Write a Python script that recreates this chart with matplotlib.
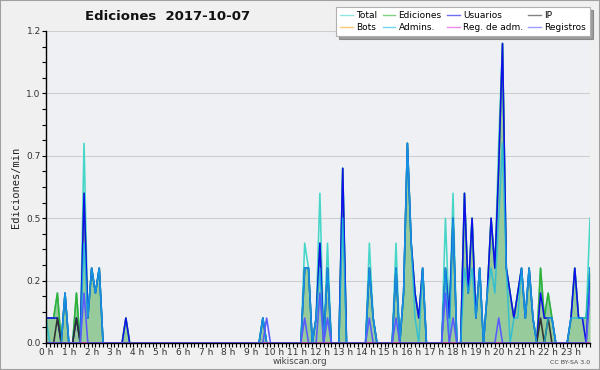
import numpy as np
import matplotlib
matplotlib.use('Agg')
import matplotlib.pyplot as plt
from matplotlib.patches import Rectangle
from matplotlib.ticker import MultipleLocator

# --- Data: edits per 10-minute bin, 2017-10-07 (144 bins, 4 hours per row) ---
total = [
    1, 1, 1, 2, 0, 2, 0, 0, 2, 0, 8, 1, 3, 2, 3, 0, 0, 0, 0, 0, 0, 1, 0, 0,
    0, 0, 0, 0, 0, 0, 0, 0, 0, 0, 0, 0, 0, 0, 0, 0, 0, 0, 0, 0, 0, 0, 0, 0,
    0, 0, 0, 0, 0, 0, 0, 0, 0, 1, 0, 0, 0, 0, 0, 0, 0, 0, 0, 0, 4, 3, 0, 1,
    6, 0, 4, 0, 0, 0, 7, 0, 0, 0, 0, 0, 0, 4, 1, 0, 0, 0, 0, 0, 4, 0, 2, 8,
    4, 2, 1, 3, 0, 0, 0, 0, 0, 5, 1, 6, 0, 0, 6, 2, 5, 1, 3, 0, 2, 5, 3, 8,
    12, 3, 2, 1, 2, 3, 1, 3, 1, 0, 3, 1, 2, 1, 0, 0, 0, 0, 1, 3, 1, 1, 1, 5,
]
ediciones = [
    1, 1, 1, 2, 0, 2, 0, 0, 2, 0, 6, 1, 3, 2, 3, 0, 0, 0, 0, 0, 0, 1, 0, 0,
    0, 0, 0, 0, 0, 0, 0, 0, 0, 0, 0, 0, 0, 0, 0, 0, 0, 0, 0, 0, 0, 0, 0, 0,
    0, 0, 0, 0, 0, 0, 0, 0, 0, 1, 0, 0, 0, 0, 0, 0, 0, 0, 0, 0, 3, 3, 0, 1,
    4, 0, 3, 0, 0, 0, 7, 0, 0, 0, 0, 0, 0, 3, 1, 0, 0, 0, 0, 0, 3, 0, 2, 8,
    4, 2, 1, 3, 0, 0, 0, 0, 0, 3, 1, 5, 0, 0, 6, 2, 5, 1, 3, 0, 2, 5, 3, 7,
    12, 3, 2, 1, 2, 3, 1, 3, 1, 0, 3, 1, 2, 1, 0, 0, 0, 0, 1, 3, 1, 1, 1, 3,
]
usuarios = [
    1, 1, 1, 1, 0, 2, 0, 0, 1, 0, 6, 1, 3, 2, 3, 0, 0, 0, 0, 0, 0, 1, 0, 0,
    0, 0, 0, 0, 0, 0, 0, 0, 0, 0, 0, 0, 0, 0, 0, 0, 0, 0, 0, 0, 0, 0, 0, 0,
    0, 0, 0, 0, 0, 0, 0, 0, 0, 1, 0, 0, 0, 0, 0, 0, 0, 0, 0, 0, 3, 3, 0, 1,
    4, 0, 3, 0, 0, 0, 7, 0, 0, 0, 0, 0, 0, 3, 1, 0, 0, 0, 0, 0, 3, 0, 2, 8,
    4, 2, 1, 3, 0, 0, 0, 0, 0, 3, 1, 5, 0, 0, 6, 2, 5, 1, 3, 0, 2, 5, 3, 7,
    12, 3, 2, 1, 2, 3, 1, 3, 1, 0, 2, 1, 1, 1, 0, 0, 0, 0, 1, 3, 1, 1, 0, 3,
]
ip = [
    0, 0, 0, 1, 0, 0, 0, 0, 1, 0, 0, 0, 0, 0, 0, 0, 0, 0, 0, 0, 0, 0, 0, 0,
    0, 0, 0, 0, 0, 0, 0, 0, 0, 0, 0, 0, 0, 0, 0, 0, 0, 0, 0, 0, 0, 0, 0, 0,
    0, 0, 0, 0, 0, 0, 0, 0, 0, 0, 0, 0, 0, 0, 0, 0, 0, 0, 0, 0, 0, 0, 0, 0,
    0, 0, 0, 0, 0, 0, 0, 0, 0, 0, 0, 0, 0, 0, 0, 0, 0, 0, 0, 0, 0, 0, 0, 0,
    0, 0, 0, 0, 0, 0, 0, 0, 0, 0, 0, 0, 0, 0, 0, 0, 0, 0, 0, 0, 0, 0, 0, 0,
    0, 0, 0, 0, 0, 0, 0, 0, 0, 0, 1, 0, 1, 0, 0, 0, 0, 0, 0, 0, 0, 0, 0, 0,
]
admins = [
    1, 0, 0, 0, 0, 2, 0, 0, 0, 0, 4, 1, 3, 2, 3, 0, 0, 0, 0, 0, 0, 0, 0, 0,
    0, 0, 0, 0, 0, 0, 0, 0, 0, 0, 0, 0, 0, 0, 0, 0, 0, 0, 0, 0, 0, 0, 0, 0,
    0, 0, 0, 0, 0, 0, 0, 0, 0, 1, 0, 0, 0, 0, 0, 0, 0, 0, 0, 0, 3, 3, 0, 1,
    3, 0, 3, 0, 0, 0, 5, 0, 0, 0, 0, 0, 0, 3, 1, 0, 0, 0, 0, 0, 3, 0, 2, 8,
    4, 1, 0, 3, 0, 0, 0, 0, 0, 3, 0, 5, 0, 0, 3, 2, 3, 1, 3, 0, 2, 3, 2, 5,
    8, 3, 0, 1, 1, 3, 1, 3, 1, 0, 0, 0, 1, 1, 0, 0, 0, 0, 1, 1, 1, 1, 1, 3,
]
registros = [
    0, 0, 0, 0, 0, 0, 0, 0, 0, 0, 2, 0, 0, 0, 0, 0, 0, 0, 0, 0, 0, 0, 0, 0,
    0, 0, 0, 0, 0, 0, 0, 0, 0, 0, 0, 0, 0, 0, 0, 0, 0, 0, 0, 0, 0, 0, 0, 0,
    0, 0, 0, 0, 0, 0, 0, 0, 0, 0, 1, 0, 0, 0, 0, 0, 0, 0, 0, 0, 1, 0, 0, 0,
    2, 0, 1, 0, 0, 0, 0, 0, 0, 0, 0, 0, 0, 1, 0, 0, 0, 0, 0, 0, 1, 0, 0, 0,
    0, 0, 0, 0, 0, 0, 0, 0, 0, 2, 0, 1, 0, 0, 0, 0, 0, 0, 0, 0, 0, 0, 0, 1,
    0, 0, 0, 0, 0, 0, 0, 0, 0, 0, 0, 0, 0, 0, 0, 0, 0, 0, 0, 0, 0, 0, 0, 2,
]
bots = [0] * 144
reg_adm = [0] * 144

hour_labels = [f'{h} h' for h in range(24)]
ytick_vals = [0, 0.25, 0.5, 0.75, 1.0, 1.25]
ytick_labels = ['0.0', '0.2', '0.5', '0.7', '1.0', '1.2']

# --- Style ---
FIG_BG = '#f0f0f0'
AX_BG = '#eef0f3'
FILL = '#98cb9c'
COLORS = {
    'Total': '#45d6c8',
    'Ediciones': '#33b033',
    'Usuarios': '#1010ee',
    'IP': '#303030',
    'Bots': '#ffa020',
    'Admins.': '#18bce0',
    'Reg. de adm.': '#e040e0',
    'Registros': '#5a5aff',
}

t = np.arange(len(total)) / 6.0   # hours
per_min = lambda s: np.array(s) / 10.0

fig = plt.figure(figsize=(6, 3.7), dpi=100, facecolor=FIG_BG)
fig.patches.append(Rectangle((0, 0), 1, 1, transform=fig.transFigure,
                             fill=False, edgecolor='#a0a0a0', lw=1.5))
ax = fig.add_axes([46 / 600, 27 / 370, 544 / 600, 312 / 370])
ax.set_facecolor(AX_BG)

ax.fill_between(t, per_min(ediciones), 0, color=FILL, lw=0, zorder=1)

series = [
    ('Total', total, 1.0),
    ('Ediciones', ediciones, 1.0),
    ('Usuarios', usuarios, 1.0),
    ('IP', ip, 1.0),
    ('Bots', bots, 1.0),
    ('Admins.', admins, 0.75),
    ('Reg. de adm.', reg_adm, 1.0),
    ('Registros', registros, 1.0),
]
handles = {}
for i, (name, vals, alpha) in enumerate(series):
    ln, = ax.plot(t, per_min(vals), color=COLORS[name], lw=1.15, alpha=alpha,
                  label=name, zorder=2 + i * 0.1)
    handles[name] = ln

ax.set_xlim(0, t[-1])
ax.set_ylim(0, 1.25)
ax.set_yticks(ytick_vals)
ax.set_yticklabels(ytick_labels)
ax.yaxis.set_minor_locator(MultipleLocator(0.0625))
ax.set_xticks(range(24))
ax.set_xticklabels(hour_labels)
ax.xaxis.set_minor_locator(MultipleLocator(1 / 6))
ax.grid(axis='y', color='#cfcfcf', lw=0.8, zorder=0)
ax.set_axisbelow(True)

ax.tick_params(axis='both', which='both', direction='out', color='black',
               width=0.8, labelsize=6.5, labelcolor='#333333', pad=0.8)
ax.tick_params(axis='both', which='major', length=3)
ax.tick_params(axis='both', which='minor', length=3)

for side in ('top', 'right'):
    ax.spines[side].set_visible(False)
for side in ('left', 'bottom'):
    ax.spines[side].set_color('black')
    ax.spines[side].set_linewidth(1.0)
    ax.spines[side].set_zorder(5)

ax.set_ylabel('Ediciones/min', family='DejaVu Sans Mono', fontsize=7.5,
              color='#222222', labelpad=4)

fig.text(85 / 600, 1 - 17 / 370, 'Ediciones  2017-10-07', fontsize=9.5,
         fontweight='bold', va='center', ha='left', color='#111111')
fig.text(300 / 600, 1 - 362 / 370, 'wikiscan.org', fontsize=6.3,
         ha='center', va='center', color='#444444')
fig.text(590 / 600, 1 - 362 / 370, 'CC BY-SA 3.0', fontsize=4.5,
         ha='right', va='center', color='#444444')

order = ['Total', 'Bots', 'Ediciones', 'Admins.', 'Usuarios',
         'Reg. de adm.', 'IP', 'Registros']
leg = fig.legend([handles[n] for n in order], order, ncol=4,
                 loc='upper right', bbox_to_anchor=(590 / 600, 1 - 7 / 370),
                 fontsize=6.5, frameon=True, fancybox=False, shadow=True,
                 handlelength=1.4, handletextpad=0.35, columnspacing=0.6,
                 labelspacing=0.3, borderpad=0.45, borderaxespad=0)
leg.get_frame().set_facecolor('white')
leg.get_frame().set_edgecolor('#b0b0b0')
leg.get_frame().set_linewidth(0.8)
for ln in leg.get_lines():
    ln.set_linewidth(1.0)
    ln.set_alpha(0.6)

fig.savefig('out.png', dpi=100, facecolor=FIG_BG)
